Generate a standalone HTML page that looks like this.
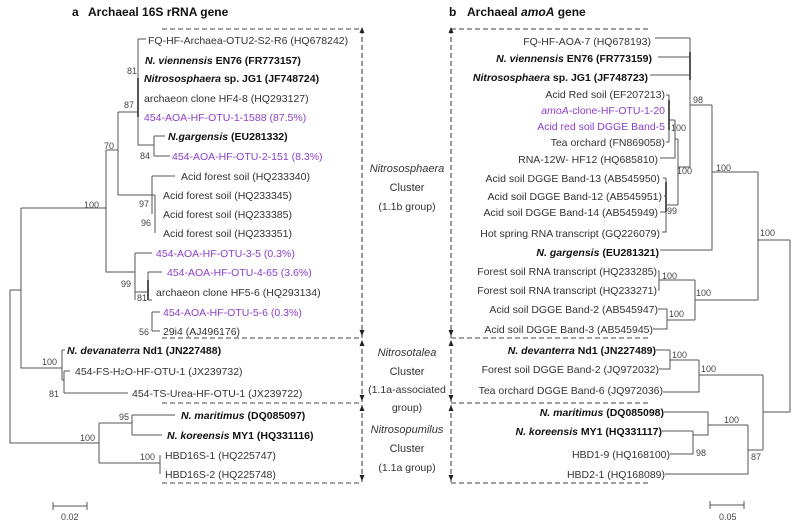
<!DOCTYPE html>
<html><head><meta charset="utf-8"><style>
html,body{margin:0;padding:0;background:#fff;}
svg{display:block;font-family:"Liberation Sans",Arial,sans-serif;}
text{font-size:10.5px;fill:#333;}
.b{font-weight:bold;fill:#111;}
.p{fill:#8a3fc9;}
.n{font-size:9px;fill:#444;}
.r{text-anchor:end;}
.c{text-anchor:middle;font-size:11px;}
</style></head><body>
<svg width="800" height="525" viewBox="0 0 800 525" xmlns="http://www.w3.org/2000/svg">
<text x="72" y="16" class="b" style="font-size:12px">a</text>
<text x="88" y="16" class="b" style="font-size:12px">Archaeal 16S rRNA gene</text>
<text x="449" y="16" class="b" style="font-size:12px">b</text>
<text x="467" y="16" class="b" style="font-size:12px">Archaeal <tspan font-style="italic">amoA</tspan> gene</text>

<g stroke="#555" stroke-width="1" fill="none">
<!-- LEFT TREE -->
<path d="M138 39 H146 M138 39 V145 H154 M154 136 H165 M154 156 V136 M154 156 H170"/>
<path d="M138 78 V117" stroke-width="2"/>
<path d="M118 112 H138 M118 112 V195 H152 M152 176 H175 M152 176 V214 M152 195 H155 M155 195 V233"/>
<path d="M106 150 H118 M106 150 V272 H135 M135 253 V300 M135 253 H152 M135 292 H148 M148 272 V300 M148 272 H162 M148 300 H152 M152 312 V331 M152 312 H160 M152 331 H160"/>
<path d="M148 280 V300" stroke-width="2"/>
<path d="M21 208 H106 M21 208 V368 H62 M62 350 V380 M62 350 H65 M62 380 H64 M64 371 V393 M64 371 H70 M64 393 H128"/>
<path d="M10 290 H21 M10 290 V443 H99 M99 423 V463 M99 423 H132 M132 415 V435 M132 415 H175 M132 435 H162 M99 463 H160 M160 455 V474"/>
<path d="M53 506 H87 M53 502 V510 M87 502 V510"/>

<!-- RIGHT TREE -->
<path d="M655 38 H690 M658 57 H690 M650 75 H690 M690 38 V168"/>
<path d="M690 52 V80" stroke-width="2"/>
<path d="M690 105 H712 M712 105 V250 H660 M712 172 H758"/>
<path d="M666 95 H669 M669 95 V142 M666 142 H669 M669 120 H675 M675 120 V158 H660 M675 139 H678 M678 139 V205 M678 167 H690"/>
<path d="M669 100 V130" stroke-width="2"/>
<path d="M663 178 H666 M666 178 V232 H662 M664 196 H666 M660 212 H666 M666 205 H678"/>
<path d="M666 182 V212" stroke-width="2"/>
<path d="M758 172 V300 M758 240 H790"/>
<path d="M658 271 H659 M659 271 V290 H658 M659 280 H695 M695 280 V320 M695 300 H758 M658 309 H667 M667 309 V329 H653 M667 320 H695"/>
<path d="M656 350 H670 M670 350 V369 H659 M670 360 H699 M699 360 V392 H663 M699 375 H763 M763 375 V450 M763 412 H790 M790 240 V412"/>
<path d="M664 412 H708 M708 412 V435 H693 M662 431 H693 M693 431 V454 H670 M708 425 H748 M748 425 V474 H665 M748 450 H763"/>
<path d="M710 505 H744 M710 501 V509 M744 501 V509"/>
</g>

<!-- dashed cluster boxes -->
<g stroke="#444" stroke-width="1.1" fill="none" stroke-dasharray="5,3">
<path d="M162 29 H362 M162 338 H362 M162 403 H362 M162 483 H362 M362 29 V483"/>
<path d="M451 29 H650 M451 338 H650 M451 403 H650 M451 483 H650 M451 29 V483"/>
</g>
<g fill="#222">
<path d="M362 27 l-2.5 6 h5z M362 340 l-2.5 6 h5z M362 336 l-2.5 -6 h5z M362 405 l-2.5 6 h5z M362 401 l-2.5 -6 h5z M362 481 l-2.5 -6 h5z"/>
<path d="M451 27 l-2.5 6 h5z M451 340 l-2.5 6 h5z M451 336 l-2.5 -6 h5z M451 405 l-2.5 6 h5z M451 401 l-2.5 -6 h5z M451 481 l-2.5 -6 h5z"/>
</g>

<!-- cluster labels -->
<text x="407" y="172" class="c" font-style="italic">Nitrososphaera</text>
<text x="407" y="191" class="c">Cluster</text>
<text x="407" y="210" class="c" style="font-size:10.5px">(1.1b group)</text>
<text x="407" y="356" class="c" font-style="italic">Nitrosotalea</text>
<text x="407" y="375" class="c">Cluster</text>
<text x="407" y="393" class="c" style="font-size:10.5px">(1.1a-associated</text>
<text x="407" y="411" class="c" style="font-size:10.5px">group)</text>
<text x="407" y="433" class="c" font-style="italic">Nitrosopumilus</text>
<text x="407" y="452" class="c">Cluster</text>
<text x="407" y="471" class="c" style="font-size:10.5px">(1.1a group)</text>

<!-- LEFT leaves -->
<text x="148" y="44">FQ-HF-Archaea-OTU2-S2-R6 (HQ678242)</text>
<text x="145" y="64" class="b"><tspan font-style="italic">N. viennensis</tspan> EN76 (FR773157)</text>
<text x="144" y="82" class="b"><tspan font-style="italic">Nitrososphaera</tspan> sp. JG1 (JF748724)</text>
<text x="144" y="102">archaeon clone HF4-8 (HQ293127)</text>
<text x="144" y="121" class="p">454-AOA-HF-OTU-1-1588 (87.5%)</text>
<text x="168" y="140" class="b"><tspan font-style="italic">N.gargensis</tspan> (EU281332)</text>
<text x="172" y="160" class="p">454-AOA-HF-OTU-2-151 (8.3%)</text>
<text x="181" y="180">Acid forest soil (HQ233340)</text>
<text x="163" y="199">Acid forest soil (HQ233345)</text>
<text x="163" y="218">Acid forest soil (HQ233385)</text>
<text x="163" y="237">Acid forest soil (HQ233351)</text>
<text x="156" y="257" class="p">454-AOA-HF-OTU-3-5 (0.3%)</text>
<text x="167" y="276" class="p">454-AOA-HF-OTU-4-65 (3.6%)</text>
<text x="156" y="296">archaeon clone HF5-6 (HQ293134)</text>
<text x="163" y="316" class="p">454-AOA-HF-OTU-5-6 (0.3%)</text>
<text x="163" y="335">29i4 (AJ496176)</text>
<text x="67" y="354" class="b"><tspan font-style="italic">N. devanaterra</tspan> Nd1 (JN227488)</text>
<text x="75" y="375">454-FS-H<tspan style="font-size:7.5px">2</tspan>O-HF-OTU-1 (JX239732)</text>
<text x="132" y="397">454-TS-Urea-HF-OTU-1 (JX239722)</text>
<text x="181" y="419" class="b"><tspan font-style="italic">N. maritimus</tspan> (DQ085097)</text>
<text x="167" y="439" class="b"><tspan font-style="italic">N. koreensis</tspan> MY1 (HQ331116)</text>
<text x="165" y="459">HBD16S-1 (HQ225747)</text>
<text x="165" y="478">HBD16S-2 (HQ225748)</text>

<!-- LEFT bootstraps -->
<text x="127" y="74" class="n">81</text>
<text x="124" y="108" class="n">87</text>
<text x="104" y="149" class="n">70</text>
<text x="140" y="159" class="n">84</text>
<text x="84" y="208" class="n">100</text>
<text x="139" y="207" class="n">97</text>
<text x="141" y="226" class="n">96</text>
<text x="121" y="287" class="n">99</text>
<text x="137" y="301" class="n">81</text>
<text x="139" y="335" class="n">56</text>
<text x="42" y="365" class="n">100</text>
<text x="49" y="397" class="n">81</text>
<text x="119" y="420" class="n">95</text>
<text x="80" y="441" class="n">100</text>
<text x="140" y="460" class="n">100</text>
<text x="61" y="520" class="n">0.02</text>

<!-- RIGHT leaves -->
<text x="651" y="45" class="r">FQ-HF-AOA-7 (HQ678193)</text>
<text x="652" y="62" class="r b"><tspan font-style="italic">N. viennensis</tspan> EN76 (FR773159)</text>
<text x="648" y="81" class="r b"><tspan font-style="italic">Nitrososphaera</tspan> sp. JG1 (JF748723)</text>
<text x="665" y="98" class="r">Acid Red soil (EF207213)</text>
<text x="665" y="114" class="r p"><tspan font-style="italic">amoA</tspan>-clone-HF-OTU-1-20</text>
<text x="665" y="130" class="r p">Acid red soil DGGE Band-5</text>
<text x="665" y="146" class="r">Tea orchard (FN869058)</text>
<text x="658" y="163" class="r">RNA-12W- HF12 (HQ685810)</text>
<text x="660" y="182" class="r">Acid soil DGGE Band-13 (AB545950)</text>
<text x="662" y="200" class="r">Acid soil DGGE Band-12 (AB545951)</text>
<text x="658" y="216" class="r">Acid soil DGGE Band-14 (AB545949)</text>
<text x="660" y="237" class="r">Hot spring RNA transcript (GQ226079)</text>
<text x="659" y="256" class="r b"><tspan font-style="italic">N. gargensis</tspan> (EU281321)</text>
<text x="657" y="275" class="r">Forest soil RNA transcript (HQ233285)</text>
<text x="657" y="294" class="r">Forest soil RNA transcript (HQ233271)</text>
<text x="658" y="313" class="r">Acid soil DGGE Band-2 (AB545947)</text>
<text x="653" y="333" class="r">Acid soil DGGE Band-3 (AB545945)</text>
<text x="656" y="354" class="r b"><tspan font-style="italic">N. devanterra</tspan> Nd1 (JN227489)</text>
<text x="659" y="373" class="r">Forest soil DGGE Band-2 (JQ972032)</text>
<text x="663" y="394" class="r">Tea orchard DGGE Band-6 (JQ972036)</text>
<text x="664" y="416" class="r b"><tspan font-style="italic">N. maritimus</tspan> (DQ085098)</text>
<text x="662" y="435" class="r b"><tspan font-style="italic">N. koreensis</tspan> MY1 (HQ331117)</text>
<text x="670" y="458" class="r">HBD1-9 (HQ168100)</text>
<text x="665" y="478" class="r">HBD2-1 (HQ168089)</text>

<!-- RIGHT bootstraps -->
<text x="693" y="103" class="n">98</text>
<text x="671" y="131" class="n">100</text>
<text x="677" y="174" class="n">100</text>
<text x="667" y="214" class="n">99</text>
<text x="716" y="171" class="n">100</text>
<text x="760" y="236" class="n">100</text>
<text x="662" y="279" class="n">100</text>
<text x="696" y="296" class="n">100</text>
<text x="669" y="317" class="n">100</text>
<text x="672" y="358" class="n">100</text>
<text x="701" y="372" class="n">100</text>
<text x="724" y="423" class="n">100</text>
<text x="696" y="456" class="n">98</text>
<text x="751" y="460" class="n">87</text>
<text x="719" y="520" class="n">0.05</text>
</svg>
</body></html>
